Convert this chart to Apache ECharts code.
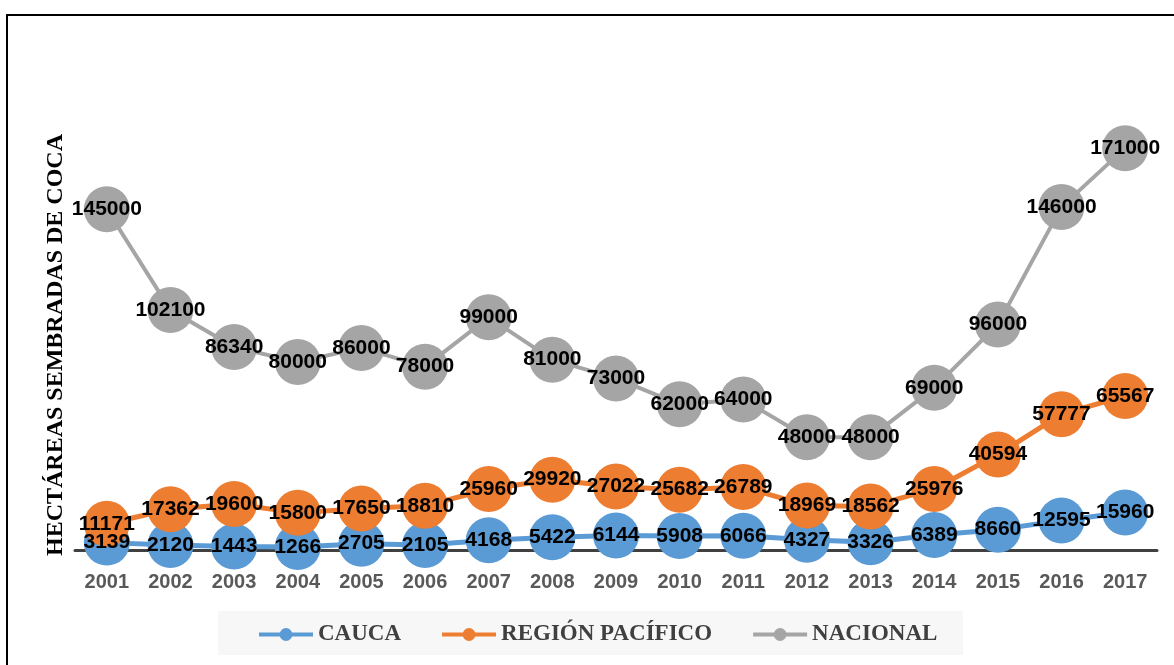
<!DOCTYPE html>
<html>
<head>
<meta charset="utf-8">
<script src="https://cdn.jsdelivr.net/npm/echarts@6/dist/echarts.min.js"></script>
<style>
  html, body { margin: 0; padding: 0; background: #fff; }
  #main { width: 1174px; height: 665px; }
</style>
</head>
<body>
<div id="main"></div>
<script>
const years = ['2001', '2002', '2003', '2004', '2005', '2006', '2007', '2008', '2009',
  '2010', '2011', '2012', '2013', '2014', '2015', '2016', '2017'];
const cauca = [3139, 2120, 1443, 1266, 2705, 2105, 4168, 5422, 6144, 5908, 6066, 4327, 3326,
  6389, 8660, 12595, 15960];
const regionPacifico = [11171, 17362, 19600, 15800, 17650, 18810, 25960, 29920, 27022, 25682,
  26789, 18969, 18562, 25976, 40594, 57777, 65567];
const nacional = [145000, 102100, 86340, 80000, 86000, 78000, 99000, 81000, 73000, 62000,
  64000, 48000, 48000, 69000, 96000, 146000, 171000];

const labelStyle = {
  show: true,
  position: 'inside',
  color: '#000',
  fontFamily: 'Liberation Sans',
  fontWeight: 'bold',
  fontSize: 21,
};

function makeSeries(name, data, color, width) {
  return {
    name,
    type: 'line',
    data,
    symbol: 'circle',
    symbolSize: 46,
    itemStyle: { color },
    lineStyle: { color, width },
    label: labelStyle,
    emphasis: { disabled: true },
  };
}

const chart = echarts.init(document.getElementById('main'));
chart.setOption({
  animation: false,
  grid: { left: 75, right: 17, top: 127, bottom: 115 },
  graphic: [
    {
      type: 'rect',
      shape: { x: 7, y: 15, width: 1200, height: 700 },
      style: { fill: 'none', stroke: '#000', lineWidth: 2 },
      z: -10,
    },
    {
      type: 'rect',
      shape: { x: 218, y: 611, width: 745, height: 44 },
      style: { fill: '#f7f7f7' },
      z: -5,
    },
    {
      type: 'text',
      x: 56,
      y: 345,
      rotation: Math.PI / 2,
      style: {
        text: 'HECTÁREAS SEMBRADAS DE COCA',
        fontFamily: 'Liberation Serif',
        fontWeight: 'bold',
        fontSize: 24,
        fill: '#000',
        align: 'center',
        verticalAlign: 'middle',
      },
    },
  ],
  legend: {
    left: 257,
    top: 623,
    padding: 0,
    itemWidth: 54,
    itemHeight: 16,
    itemGap: 39,
    lineStyle: { width: 4 },
    textStyle: {
      fontFamily: 'Liberation Serif',
      fontWeight: 'bold',
      fontSize: 23,
      color: '#404040',
    },
    data: ['CAUCA', 'REGIÓN PACÍFICO', 'NACIONAL'],
  },
  xAxis: {
    type: 'category',
    data: years,
    boundaryGap: true,
    axisLine: { lineStyle: { color: '#404040', width: 3 } },
    axisTick: { show: false },
    axisLabel: {
      color: '#595959',
      fontFamily: 'Liberation Sans',
      fontWeight: 'bold',
      fontSize: 20,
      margin: 22,
    },
  },
  yAxis: {
    type: 'value',
    min: 0,
    max: 180000,
    axisLine: { show: false },
    axisTick: { show: false },
    axisLabel: { show: false },
    splitLine: { show: false },
  },
  series: [
    makeSeries('CAUCA', cauca, '#5B9BD5', 5),
    makeSeries('REGIÓN PACÍFICO', regionPacifico, '#ED7D31', 5),
    makeSeries('NACIONAL', nacional, '#A5A5A5', 4),
  ],
});
</script>
</body>
</html>
